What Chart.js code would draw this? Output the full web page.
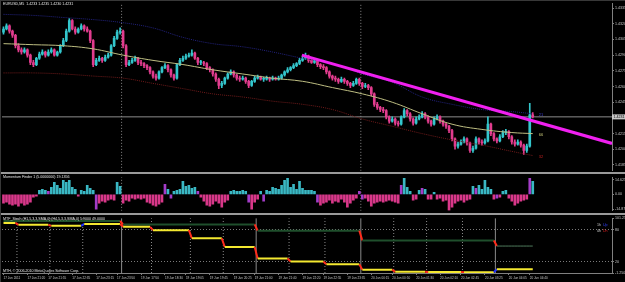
<!DOCTYPE html>
<html>
<head>
<meta charset="utf-8">
<script src="https://cdn.jsdelivr.net/npm/chart.js@4.4.0/dist/chart.umd.min.js"></script>
<style>
html,body{margin:0;padding:0;background:#000;}
#wrap{position:relative;width:625px;height:282px;background:#000;overflow:hidden;font-family:"Liberation Sans",Arial,sans-serif;}
#wrap canvas{position:absolute;left:0;}
.sep{position:absolute;left:0;width:625px;height:2px;background:#9a9a9a;}
.edge{position:absolute;background:#383838;}
.txt{position:absolute;color:#e6e6e6;font-size:3.6px;line-height:4px;white-space:nowrap;}
</style>
</head>
<body>
<div id="wrap">
  <canvas id="cPrice" width="625" height="174" style="top:0"></canvas>
  <canvas id="cMom" width="625" height="40" style="top:174px"></canvas>
  <canvas id="cStoch" width="625" height="67" style="top:215px"></canvas>
  <div class="sep" style="top:172px"></div>
  <div class="sep" style="top:213px"></div>
  <div class="edge" style="left:0;top:0;width:625px;height:1px"></div>
  <div class="edge" style="left:0;top:0;width:1px;height:282px"></div>
  <div class="txt" style="left:3px;top:2px">EURUSD,M5&nbsp; 1.4233 1.4235 1.4230 1.4231</div>
  <div class="txt" style="left:3px;top:175px">Momentum Finder 1 (5.0000000) 19.1356</div>
  <div class="txt" style="left:3px;top:217px">MTF_Stoch (H1,5,3,3,SMA,0) (H4,5,3,3,SMA,0) 5.9000 49.0000</div>
  <div class="txt" style="left:3px;top:269px">MTH, © 2006-2010 MetaQuotes Software Corp.</div>
  <div class="txt" style="left:597px;top:223px;color:#c8c8c8">1h</div>
  <div class="txt" style="left:603px;top:223px;color:#3040ff">Up</div>
  <div class="txt" style="left:597px;top:229px;color:#c8c8c8">4h</div>
  <div class="txt" style="left:603px;top:229px;color:#e02020">Dn</div>
</div>
<script>
// ── DATA ────────────────────────────────────────────
const opens = [
  1.4312,1.4315,1.4318,1.4313,1.4309,1.4299,1.4295,1.4293,1.4295,1.4290,
  1.4283,1.4281,1.4287,1.4291,1.4293,1.4290,1.4293,1.4295,1.4290,1.4293,
  1.4299,1.4304,1.4313,1.4323,1.4315,1.4312,1.4315,1.4318,1.4315,1.4313,
  1.4304,1.4281,1.4285,1.4287,1.4285,1.4288,1.4290,1.4299,1.4306,1.4312,
  1.4313,1.4299,1.4281,1.4283,1.4285,1.4287,1.4283,1.4282,1.4280,1.4278,
  1.4274,1.4270,1.4268,1.4274,1.4278,1.4280,1.4276,1.4271,1.4268,1.4281,
  1.4285,1.4287,1.4289,1.4290,1.4292,1.4287,1.4283,1.4283,1.4282,1.4278,
  1.4276,1.4272,1.4267,1.4261,1.4263,1.4268,1.4272,1.4274,1.4271,1.4268,
  1.4267,1.4268,1.4265,1.4261,1.4265,1.4268,1.4269,1.4267,1.4267,1.4268,
  1.4267,1.4268,1.4267,1.4268,1.4271,1.4274,1.4276,1.4278,1.4280,1.4282,
  1.4285,1.4287,1.4289,1.4285,1.4283,1.4285,1.4281,1.4279,1.4278,1.4274,
  1.4270,1.4268,1.4267,1.4265,1.4267,1.4265,1.4263,1.4261,1.4263,1.4267,
  1.4263,1.4260,1.4261,1.4259,1.4253,1.4243,1.4240,1.4238,1.4237,1.4231,
  1.4227,1.4229,1.4225,1.4224,1.4231,1.4237,1.4234,1.4229,1.4225,1.4229,
  1.4231,1.4234,1.4231,1.4227,1.4224,1.4229,1.4231,1.4227,1.4224,1.4222,
  1.4218,1.4210,1.4203,1.4205,1.4207,1.4210,1.4206,1.4199,1.4201,1.4210,
  1.4207,1.4206,1.4208,1.4224,1.4215,1.4210,1.4208,1.4212,1.4216,1.4217,
  1.4212,1.4207,1.4205,1.4207,1.4204,1.4199,1.4203,1.4233
];
const closes = [
  1.4315,1.4318,1.4313,1.4309,1.4299,1.4295,1.4293,1.4295,1.4290,1.4283,
  1.4281,1.4287,1.4291,1.4293,1.4290,1.4293,1.4295,1.4290,1.4293,1.4299,
  1.4304,1.4313,1.4323,1.4315,1.4312,1.4315,1.4318,1.4315,1.4313,1.4304,
  1.4281,1.4285,1.4287,1.4285,1.4288,1.4290,1.4299,1.4306,1.4312,1.4313,
  1.4299,1.4281,1.4283,1.4285,1.4287,1.4283,1.4282,1.4280,1.4278,1.4274,
  1.4270,1.4268,1.4274,1.4278,1.4280,1.4276,1.4271,1.4268,1.4281,1.4285,
  1.4287,1.4289,1.4290,1.4292,1.4287,1.4283,1.4283,1.4282,1.4278,1.4276,
  1.4272,1.4267,1.4261,1.4263,1.4268,1.4272,1.4274,1.4271,1.4268,1.4267,
  1.4268,1.4265,1.4261,1.4265,1.4268,1.4269,1.4267,1.4267,1.4268,1.4267,
  1.4268,1.4267,1.4268,1.4271,1.4274,1.4276,1.4278,1.4280,1.4282,1.4285,
  1.4287,1.4289,1.4285,1.4283,1.4285,1.4281,1.4279,1.4278,1.4274,1.4270,
  1.4268,1.4267,1.4265,1.4267,1.4265,1.4263,1.4261,1.4263,1.4267,1.4263,
  1.4260,1.4261,1.4259,1.4253,1.4243,1.4240,1.4238,1.4237,1.4231,1.4227,
  1.4229,1.4225,1.4224,1.4231,1.4237,1.4234,1.4229,1.4225,1.4229,1.4231,
  1.4234,1.4231,1.4227,1.4224,1.4229,1.4231,1.4227,1.4224,1.4222,1.4218,
  1.4210,1.4203,1.4205,1.4207,1.4210,1.4206,1.4199,1.4201,1.4210,1.4207,
  1.4206,1.4208,1.4224,1.4215,1.4210,1.4208,1.4212,1.4216,1.4217,1.4212,
  1.4207,1.4205,1.4207,1.4204,1.4199,1.4203,1.4233,1.4231
];
const highs = [
  1.4317,1.4320,1.4319,1.4314,1.4310,1.4301,1.4297,1.4297,1.4296,1.4291,
  1.4285,1.4288,1.4293,1.4295,1.4294,1.4295,1.4297,1.4296,1.4294,1.4300,
  1.4306,1.4315,1.4325,1.4324,1.4317,1.4316,1.4320,1.4319,1.4317,1.4314,
  1.4305,1.4287,1.4289,1.4288,1.4290,1.4292,1.4300,1.4308,1.4314,1.4316,
  1.4314,1.4300,1.4285,1.4287,1.4289,1.4288,1.4285,1.4283,1.4281,1.4279,
  1.4275,1.4272,1.4275,1.4279,1.4282,1.4281,1.4277,1.4272,1.4282,1.4287,
  1.4289,1.4291,1.4292,1.4295,1.4293,1.4288,1.4285,1.4284,1.4283,1.4279,
  1.4277,1.4273,1.4268,1.4265,1.4269,1.4273,1.4276,1.4275,1.4272,1.4270,
  1.4270,1.4269,1.4266,1.4266,1.4270,1.4271,1.4270,1.4269,1.4270,1.4269,
  1.4270,1.4269,1.4270,1.4272,1.4275,1.4278,1.4279,1.4282,1.4283,1.4287,
  1.4289,1.4292,1.4290,1.4287,1.4287,1.4286,1.4282,1.4281,1.4279,1.4275,
  1.4271,1.4270,1.4268,1.4269,1.4268,1.4266,1.4264,1.4265,1.4268,1.4268,
  1.4264,1.4263,1.4262,1.4260,1.4254,1.4245,1.4241,1.4240,1.4238,1.4232,
  1.4231,1.4230,1.4227,1.4232,1.4239,1.4238,1.4235,1.4230,1.4231,1.4233,
  1.4236,1.4235,1.4232,1.4228,1.4231,1.4233,1.4232,1.4228,1.4225,1.4223,
  1.4219,1.4211,1.4207,1.4209,1.4212,1.4211,1.4207,1.4203,1.4212,1.4211,
  1.4209,1.4210,1.4231,1.4225,1.4216,1.4211,1.4214,1.4218,1.4219,1.4218,
  1.4213,1.4209,1.4209,1.4208,1.4205,1.4205,1.4244,1.4235
];
const lows = [
  1.4310,1.4314,1.4311,1.4307,1.4297,1.4293,1.4291,1.4292,1.4288,1.4281,
  1.4279,1.4280,1.4286,1.4290,1.4288,1.4289,1.4292,1.4289,1.4289,1.4292,
  1.4298,1.4303,1.4312,1.4314,1.4310,1.4311,1.4314,1.4313,1.4312,1.4302,
  1.4279,1.4280,1.4284,1.4283,1.4284,1.4287,1.4289,1.4298,1.4305,1.4310,
  1.4297,1.4279,1.4280,1.4282,1.4284,1.4281,1.4280,1.4278,1.4276,1.4272,
  1.4268,1.4266,1.4267,1.4273,1.4277,1.4274,1.4269,1.4266,1.4267,1.4280,
  1.4284,1.4286,1.4288,1.4289,1.4286,1.4281,1.4281,1.4280,1.4276,1.4274,
  1.4270,1.4265,1.4258,1.4259,1.4262,1.4267,1.4271,1.4269,1.4266,1.4265,
  1.4266,1.4263,1.4259,1.4260,1.4264,1.4267,1.4266,1.4265,1.4266,1.4265,
  1.4266,1.4266,1.4266,1.4267,1.4270,1.4273,1.4275,1.4277,1.4279,1.4281,
  1.4284,1.4286,1.4283,1.4282,1.4282,1.4279,1.4277,1.4276,1.4272,1.4268,
  1.4266,1.4265,1.4263,1.4264,1.4263,1.4261,1.4259,1.4260,1.4262,1.4261,
  1.4258,1.4259,1.4257,1.4251,1.4241,1.4238,1.4236,1.4235,1.4229,1.4225,
  1.4226,1.4223,1.4222,1.4223,1.4230,1.4232,1.4227,1.4223,1.4224,1.4228,
  1.4230,1.4229,1.4225,1.4222,1.4223,1.4228,1.4225,1.4222,1.4220,1.4216,
  1.4208,1.4200,1.4201,1.4204,1.4206,1.4204,1.4197,1.4197,1.4200,1.4205,
  1.4204,1.4205,1.4207,1.4213,1.4208,1.4206,1.4207,1.4211,1.4214,1.4210,
  1.4205,1.4203,1.4204,1.4202,1.4195,1.4197,1.4202,1.4230
];

// moving averages, read every 10 bars
const maBars = [0,10,20,30,40,50,60,70,80,90,100,110,120,130,140,150,160,170,177];
const maBlue = [1.4329,1.4328,1.4326,1.4324,1.4321,1.4316,1.4307,1.4301,1.4298,1.4293,1.4287,1.4282,1.4272,1.4264,1.4250,1.4243,1.4238,1.4236,1.4234];
const maKhaki = [1.4301,1.4300,1.4299,1.4296,1.4290,1.4285,1.4281,1.4276,1.4272,1.4268,1.4265,1.4259,1.4253,1.4245,1.4234,1.4224,1.4219,1.4216,1.4215];
const maMaroon = [1.4273,1.4273,1.4272,1.4270,1.4268,1.4263,1.4258,1.4253,1.4250,1.4246,1.4243,1.4238,1.4229,1.4222,1.4215,1.4209,1.4204,1.4198,1.4194];
const maTags = ['21', '66', '32'];

const trendBars = [99.8, 203.5];
const trendPrices = [1.4290, 1.42056];

const priceTicks = [1.4185,1.4200,1.4215,1.4230,1.4245,1.4260,1.4275,1.4290,1.4305,1.4320,1.4335];

const momentum = [
  -9,-8,-10,-11,-10,-12,-9,-11,-10,-8,
  -3,-2,4,5,4,3,7,12,9,6,
  14,12,14,7,5,-2,4,3,9,6,
  4,-15,-9,-7,-8,-6,-5,-6,12,8,
  -9,-6,-7,-4,-5,-4,-5,-4,-8,-9,
  -11,-12,-10,-8,10,5,-4,3,4,5,
  13,8,9,6,7,3,-3,-7,-11,-12,
  -10,-7,-9,-13,-8,-6,3,4,3,3,
  4,3,-8,-15,-8,-5,3,-7,4,3,
  7,6,5,9,14,16,7,10,5,13,
  6,4,4,4,3,-8,-11,-9,-8,-6,
  -9,-7,-8,-5,-8,-13,-9,-6,-4,3,
  -5,-4,-7,-12,-9,-8,-7,-8,-7,-6,
  -7,-8,-9,9,16,7,3,-6,-5,4,
  6,5,-5,-5,2,-5,-4,-7,-6,-16,
  -13,-9,-7,-6,-8,-6,-5,8,6,9,
  5,14,7,5,-5,-4,-3,3,4,-4,
  -7,-11,-9,-7,-6,-5,16,13
];
// u = rising, d = falling, p = turn
const momState = [
  'dddddddddd','dduuupuuuu','uuuuuduuuu','updddddduu','dddddddddd',
  'ddddpupuuu','uuuuupdddd','dddddduuuu','uupdddupuu','uuuuuuuuuu',
  'uuuuupdddd','dddddddddp','pddddddddd','dddpuuuddu','pudduddddd',
  'dddddddupu','uuuudpduud','ddddddpu'
].join('').split('');
const momTicks = [14.625, 0, -14.875];
const momTickText = ['14.625', '0.00', '-14.875'];

const dayStarts = [40, 120];
const h1Starts = [0,5,16,27,40,50,63,74,85,96,108,120,131,142,154,165];
const h1Stoch = [92.3,88.7,86.9,90.5,85.1,78.8,63.5,47.3,25.7,20.3,14.9,5.0,0.9,0.5,0.1,5.9];
const h4Starts = [0,40,85,120,165];
const h4Stoch = [95.9,89.6,77.9,59.5,49.1];
const stochTicks = [101.25, 80, 20, -1.25];
const stochTickText = ['101.250', '80', '20', '-1.250'];

const timeBars = [0,8,15,23,31,38,46,54,61,69,77,84,92,100,107,115,123,130,138,146,153,161,169,176];
const timeLabels = [
  '17 Jun 2011','17 Jun 21:20','17 Jun 21:55','17 Jun 22:35','17 Jun 23:15','17 Jun 23:50',
  '19 Jun 17:50','19 Jun 18:30','19 Jun 19:05','19 Jun 19:45','19 Jun 20:25','19 Jun 21:00',
  '19 Jun 21:40','19 Jun 22:20','19 Jun 22:55','19 Jun 23:35','20 Jun 00:15','20 Jun 00:50',
  '20 Jun 01:30','20 Jun 02:10','20 Jun 02:45','20 Jun 03:25','20 Jun 04:05','20 Jun 04:40'
];

// ── STYLE ───────────────────────────────────────────
const UP = '#33c6cc', DN = '#e23c8e';
const MOM = { u: '#3ab8c4', d: '#d9388a', p: '#a43cc8' };
const X_MIN = -0.5, X_MAX = 203.5;
const AXIS = '#808080', LABEL = '#c8c8c8';
const FONT = 'Liberation Sans';

Chart.defaults.font.family = FONT;
Chart.defaults.animation = false;
Chart.defaults.events = [];

const base = {
  responsive: false,
  devicePixelRatio: 1,
  plugins: { legend: { display: false }, tooltip: { enabled: false } }
};

function rightAxis(min, max, ticks, text) {
  return {
    position: 'right', min, max, beginAtZero: false,
    afterBuildTicks: s => { s.ticks = ticks.map(v => ({ value: v })); },
    afterFit: s => { s.width = 13; },
    ticks: { color: LABEL, font: { size: 3.6 }, padding: 1, autoSkip: false, callback: (v, i) => text(v, i) },
    grid: { drawOnChartArea: false, tickLength: 2, color: AXIS },
    border: { color: AXIS }
  };
}
// bar charts default to an offset index axis; switch that off
const hiddenX = { type: 'linear', min: X_MIN, max: X_MAX, offset: false, grid: { offset: false }, display: false };

function vLine(x, y0, y1, dash) {
  return {
    type: 'line', data: [{ x, y: y0 }, { x, y: y1 }],
    borderColor: '#8a8a8a', borderWidth: 1, borderDash: dash,
    pointRadius: 0, order: 20
  };
}

function expandSteps(starts, vals) {
  return closes.map((_, i) => {
    let k = 0;
    while (k + 1 < starts.length && starts[k + 1] <= i) k++;
    return { x: i, y: vals[k] };
  });
}

// ── PRICE PANEL ─────────────────────────────────────
const P_MIN = 1.41794, P_MAX = 1.43397;
const candleCol = closes.map((c, i) => c >= opens[i] ? UP : DN);

const priceTag = {
  id: 'priceTag',
  afterDraw(chart) {
    const { ctx, scales: { x, y } } = chart;
    const last = closes.length - 1;
    const py = y.getPixelForValue(closes[last]);
    ctx.save();
    ctx.fillStyle = '#c8c8c8';
    ctx.fillRect(y.left, py - 2.5, 13, 5);
    ctx.fillStyle = '#000';
    ctx.font = '3.6px "' + FONT + '"';
    ctx.textBaseline = 'middle';
    ctx.fillText(closes[last].toFixed(4), y.left + 1.5, py);
    const lx = x.getPixelForValue(maBars[maBars.length - 1]) + 6;
    [[maBlue, '#3a3ad0'], [maKhaki, '#c8c878'], [maMaroon, '#c02020']].forEach(([arr, col], k) => {
      ctx.fillStyle = col;
      ctx.font = '4px "' + FONT + '"';
      ctx.fillText(maTags[k], lx, y.getPixelForValue(arr[arr.length - 1]) + 1.5);
    });
    ctx.restore();
  }
};

new Chart(document.getElementById('cPrice'), {
  type: 'bar',
  data: {
    datasets: [
      { type: 'line', data: trendBars.map((b, i) => ({ x: b, y: trendPrices[i] })),
        borderColor: '#f020f0', borderWidth: 3, pointRadius: 0, order: 1 },
      { type: 'line', data: maBars.map((b, i) => ({ x: b, y: maKhaki[i] })),
        borderColor: '#bebe82', borderWidth: 1, pointRadius: 0, tension: 0.4, order: 2 },
      { type: 'line', data: maBars.map((b, i) => ({ x: b, y: maBlue[i] })),
        borderColor: '#22227e', borderWidth: 1, borderDash: [1, 1], pointRadius: 0, tension: 0.4, order: 3 },
      { type: 'line', data: maBars.map((b, i) => ({ x: b, y: maMaroon[i] })),
        borderColor: '#6e1a1a', borderWidth: 1, borderDash: [1, 1], pointRadius: 0, tension: 0.4, order: 3 },
      { data: closes.map((c, i) => ({ x: i, y: [opens[i], c] })),
        backgroundColor: candleCol, barThickness: 2, minBarLength: 1, grouped: false, order: 5 },
      { data: closes.map((c, i) => ({ x: i, y: [lows[i], highs[i]] })),
        backgroundColor: candleCol, barThickness: 1, grouped: false, order: 6 },
      { type: 'line', data: [{ x: X_MIN, y: closes[closes.length - 1] }, { x: X_MAX, y: closes[closes.length - 1] }],
        borderColor: '#8c8c8c', borderWidth: 1, pointRadius: 0, order: 7 },
      ...dayStarts.map(b => vLine(b - 0.5, P_MIN, P_MAX, [1, 2]))
    ]
  },
  options: {
    ...base,
    layout: { padding: { left: 2, top: 2, right: 0, bottom: 1 } },
    scales: {
      x: hiddenX,
      y: rightAxis(P_MIN, P_MAX, priceTicks, v => v.toFixed(4))
    }
  },
  plugins: [priceTag]
});

// ── MOMENTUM PANEL ──────────────────────────────────
const M_MIN = -16.6, M_MAX = 17.2;
new Chart(document.getElementById('cMom'), {
  type: 'bar',
  data: {
    datasets: [
      { data: momentum.map((v, i) => ({ x: i, y: v })),
        backgroundColor: momState.map(s => MOM[s]), barThickness: 2, grouped: false, order: 2 },
      ...dayStarts.map(b => vLine(b - 0.5, M_MIN, M_MAX, [1, 2]))
    ]
  },
  options: {
    ...base,
    layout: { padding: { left: 2, top: 0, right: 0, bottom: 0 } },
    scales: {
      x: hiddenX,
      y: rightAxis(M_MIN, M_MAX, momTicks, (v, i) => momTickText[i])
    }
  }
});

// ── STOCH PANEL ─────────────────────────────────────
const S_MIN = -1.25, S_MAX = 101.25;
const stepColor = flat => ctx =>
  ctx.p1.parsed.y < ctx.p0.parsed.y ? '#ff2a1a' :
  ctx.p1.parsed.y > ctx.p0.parsed.y ? '#2030ff' : flat(ctx);
const lastH4 = h4Starts[h4Starts.length - 1];

const stochY = rightAxis(S_MIN, S_MAX, stochTicks, (v, i) => stochTickText[i]);
stochY.grid = {
  drawOnChartArea: true, tickLength: 2, tickColor: AXIS,
  color: c => (c.tick && (c.tick.value === 80 || c.tick.value === 20)) ? '#7a7a7a' : 'rgba(0,0,0,0)'
};
stochY.border = { color: AXIS, dash: [1, 2] };

new Chart(document.getElementById('cStoch'), {
  type: 'line',
  data: {
    datasets: [
      { data: expandSteps(h1Starts, h1Stoch), borderWidth: 2, pointRadius: 0, order: 1,
        borderColor: '#f4e830', segment: { borderColor: stepColor(() => '#f4e830') } },
      { data: expandSteps(h4Starts, h4Stoch), pointRadius: 0, order: 2,
        borderColor: '#1f4f2c', borderWidth: 2,
        segment: {
          borderColor: stepColor(c => c.p0DataIndex >= lastH4 ? '#4f7a5c' : '#1f4f2c'),
          borderWidth: c => c.p0DataIndex >= lastH4 ? 1 : 2
        } },
      ...h1Starts.filter(b => b > 0 && !h4Starts.includes(b)).map(b => vLine(b - 0.5, S_MIN, S_MAX, [1, 2])),
      ...h4Starts.filter(b => b > 0).map(b => vLine(b - 0.5, S_MIN, S_MAX, []))
    ]
  },
  options: {
    ...base,
    layout: { padding: { left: 2, top: 1, right: 0, bottom: 0 } },
    scales: {
      x: {
        type: 'linear', min: X_MIN, max: X_MAX,
        afterBuildTicks: s => { s.ticks = timeBars.map(v => ({ value: v })); },
        afterFit: s => { s.height = 9; },
        ticks: {
          color: LABEL, font: { size: 3.1 }, padding: 1, align: 'start',
          autoSkip: false, maxRotation: 0,
          callback: (v, i) => timeLabels[i]
        },
        grid: { drawOnChartArea: false, tickLength: 2, color: AXIS },
        border: { color: AXIS }
      },
      y: stochY
    }
  }
});
</script>
</body>
</html>
